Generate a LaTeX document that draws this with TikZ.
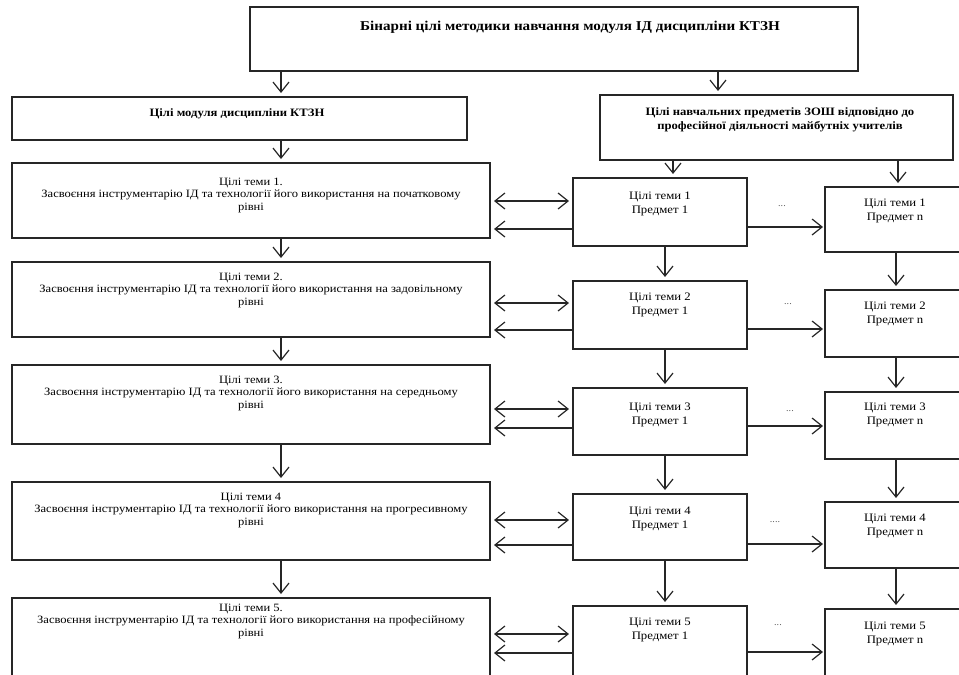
\documentclass[tikz,border=0pt]{standalone}
\usepackage{fontspec}
\setmainfont[FakeStretch=1.12]{Liberation Serif}
\usetikzlibrary{arrows.meta}
\begin{document}
\begin{tikzpicture}[x=1pt,y=-1pt,
  box/.style={draw=black!85, line width=1.2pt, rectangle, inner sep=0pt, outer sep=0pt, anchor=north west},
  txt/.style={align=center, inner sep=0pt, font=\fontsize{11.2}{12.5}\selectfont},
  stxt/.style={align=center, inner sep=0pt, font=\fontsize{11.4}{14.5}\selectfont},
  btxt/.style={align=center, inner sep=0pt, font=\bfseries\fontsize{11.3}{13.5}\selectfont},
  barb/.tip={Straight Barb[length=10pt,width=16pt,line width=1.2pt]},
  arr/.style={draw=black!85, line width=1.2pt, -barb, shorten >=4pt},
  darr/.style={draw=black!85, line width=1.2pt, barb-barb, shorten >=4pt, shorten <=4pt},
  larr/.style={draw=black!85, line width=1.2pt, -barb, shorten >=4pt},
  dots/.style={inner sep=0pt, font=\fontsize{9}{9}\selectfont, text=black!70}
]
\useasboundingbox (0,0) rectangle (959,675);
\clip (0,0) rectangle (959,675);

% top boxes
\node[box, minimum width=608, minimum height=64] (title) at (250,7) {};
\node[btxt, font=\bfseries\fontsize{13.5}{15}\selectfont] (titlet) at (570,27) {Бінарні цілі методики навчання модуля ІД дисципліни КТЗН};

\node[box, minimum width=455, minimum height=43] (mod) at (12,97) {};
\node[btxt] (modt) at (237,114) {Цілі модуля дисципліни КТЗН};

\node[box, minimum width=353, minimum height=65] (zosh) at (600,95) {};
\node[btxt] (zosht) at (780,120) {Цілі навчальних предметів ЗОШ відповідно до\\професійної діяльності майбутніх учителів};

% left column
\node[box, minimum width=478, minimum height=75] (t1) at (12,163) {};
\node[txt] (t1t) at (251,195) {Цілі теми 1.\\Засвоєння інструментарію ІД та технології його використання на початковому\\рівні};
\node[box, minimum width=478, minimum height=75] (t2) at (12,262) {};
\node[txt] (t2t) at (251,290) {Цілі теми 2.\\Засвоєння інструментарію ІД та технології його використання на задовільному\\рівні};
\node[box, minimum width=478, minimum height=79] (t3) at (12,365) {};
\node[txt] (t3t) at (251,393) {Цілі теми 3.\\Засвоєння інструментарію ІД та технології його використання на середньому\\рівні};
\node[box, minimum width=478, minimum height=78] (t4) at (12,482) {};
\node[txt] (t4t) at (251,510) {Цілі теми 4\\Засвоєння інструментарію ІД та технології його використання на прогресивному\\рівні};
\node[box, minimum width=478, minimum height=92] (t5) at (12,598) {};
\node[txt] (t5t) at (251,621) {Цілі теми 5.\\Засвоєння інструментарію ІД та технології його використання на професійному\\рівні};

% middle column
\node[box, minimum width=174, minimum height=68] (m1) at (573,178) {};
\node[stxt] (m1t) at (660,204) {Цілі теми 1\\Предмет 1};
\node[box, minimum width=174, minimum height=68] (m2) at (573,281) {};
\node[stxt] (m2t) at (660,305) {Цілі теми 2\\Предмет 1};
\node[box, minimum width=174, minimum height=67] (m3) at (573,388) {};
\node[stxt] (m3t) at (660,415) {Цілі теми 3\\Предмет 1};
\node[box, minimum width=174, minimum height=66] (m4) at (573,494) {};
\node[stxt] (m4t) at (660,519) {Цілі теми 4\\Предмет 1};
\node[box, minimum width=174, minimum height=84] (m5) at (573,606) {};
\node[stxt] (m5t) at (660,630) {Цілі теми 5\\Предмет 1};

% right column
\node[box, minimum width=141, minimum height=65] (r1) at (825,187) {};
\node[stxt] (r1t) at (895,211) {Цілі теми 1\\Предмет n};
\node[box, minimum width=141, minimum height=67] (r2) at (825,290) {};
\node[stxt] (r2t) at (895,314) {Цілі теми 2\\Предмет n};
\node[box, minimum width=141, minimum height=67] (r3) at (825,392) {};
\node[stxt] (r3t) at (895,415) {Цілі теми 3\\Предмет n};
\node[box, minimum width=141, minimum height=66] (r4) at (825,502) {};
\node[stxt] (r4t) at (895,526) {Цілі теми 4\\Предмет n};
\node[box, minimum width=141, minimum height=81] (r5) at (825,609) {};
\node[stxt] (r5t) at (895,634) {Цілі теми 5\\Предмет n};

% dots
\node[dots] (d1) at (782,206) {...};
\node[dots] (d2) at (788,304) {...};
\node[dots] (d3) at (790,411) {...};
\node[dots] (d4) at (775,522) {....};
\node[dots] (d5) at (778,625) {...};

% vertical arrows
\draw[arr] (title.south -| 281,0) -- (mod.north -| 281,0);
\draw[arr] (title.south -| 718,0) -- (zosh.north -| 718,0);
\draw[arr] (mod.south -| 281,0) -- (t1.north -| 281,0);
\draw[arr] (t1.south -| 281,0) -- (t2.north -| 281,0);
\draw[arr] (t2.south -| 281,0) -- (t3.north -| 281,0);
\draw[arr] (t3.south -| 281,0) -- (t4.north -| 281,0);
\draw[arr] (t4.south -| 281,0) -- (t5.north -| 281,0);
\draw[arr] (zosh.south -| 673,0) -- (m1.north -| 673,0);
\draw[arr] (zosh.south -| 898,0) -- (r1.north -| 898,0);
\draw[arr] (m1.south -| 665,0) -- (m2.north -| 665,0);
\draw[arr] (m2.south -| 665,0) -- (m3.north -| 665,0);
\draw[arr] (m3.south -| 665,0) -- (m4.north -| 665,0);
\draw[arr] (m4.south -| 665,0) -- (m5.north -| 665,0);
\draw[arr] (r1.south -| 896,0) -- (r2.north -| 896,0);
\draw[arr] (r2.south -| 896,0) -- (r3.north -| 896,0);
\draw[arr] (r3.south -| 896,0) -- (r4.north -| 896,0);
\draw[arr] (r4.south -| 896,0) -- (r5.north -| 896,0);

% horizontal arrows
\draw[darr] (t1.east |- 0,201) -- (m1.west |- 0,201);
\draw[larr] (m1.west |- 0,229) -- (t1.east |- 0,229);
\draw[arr, shorten >=2pt] (m1.east |- 0,227) -- (r1.west |- 0,227);

\draw[darr] (t2.east |- 0,303) -- (m2.west |- 0,303);
\draw[larr] (m2.west |- 0,330) -- (t2.east |- 0,330);
\draw[arr, shorten >=2pt] (m2.east |- 0,329) -- (r2.west |- 0,329);

\draw[darr] (t3.east |- 0,409) -- (m3.west |- 0,409);
\draw[larr] (m3.west |- 0,428) -- (t3.east |- 0,428);
\draw[arr, shorten >=2pt] (m3.east |- 0,426) -- (r3.west |- 0,426);

\draw[darr] (t4.east |- 0,520) -- (m4.west |- 0,520);
\draw[larr] (m4.west |- 0,545) -- (t4.east |- 0,545);
\draw[arr, shorten >=2pt] (m4.east |- 0,544) -- (r4.west |- 0,544);

\draw[darr] (t5.east |- 0,634) -- (m5.west |- 0,634);
\draw[larr] (m5.west |- 0,653) -- (t5.east |- 0,653);
\draw[arr, shorten >=2pt] (m5.east |- 0,652) -- (r5.west |- 0,652);
\end{tikzpicture}
\end{document}
